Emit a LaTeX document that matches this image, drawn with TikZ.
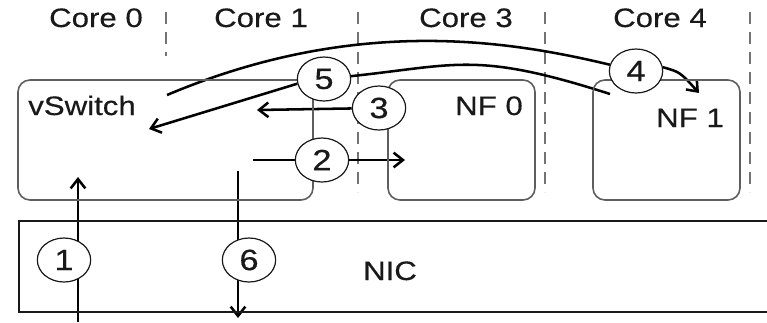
\documentclass[tikz,border=0pt]{standalone}
\usepackage{fontspec}
\setmainfont{Liberation Sans}[FakeStretch=1.17,FakeBold=0.4]
\usetikzlibrary{arrows.meta,shapes.geometric}
\pgfdeclarelayer{bg}
\pgfsetlayers{bg,main}
\definecolor{boxgray}{RGB}{95,95,95}
\definecolor{dashgray}{RGB}{115,115,115}
\definecolor{ink}{RGB}{25,25,25}
\begin{document}
\begin{tikzpicture}[x=0.75pt,y=-0.75pt,
  lbl/.style={font=\fontsize{20}{24}\selectfont, text=ink, inner sep=0pt},
  num/.style={ellipse, draw=ink, line width=0.9pt, fill=white, minimum width=40pt, minimum height=33pt, inner sep=0pt, font=\fontsize{22}{26}\selectfont, text=ink},
  corebox/.style={draw=boxgray, line width=1.2pt, rounded corners=9pt, minimum width=110.25pt, minimum height=90pt, inner sep=0pt},
  sep/.style={draw=dashgray, line width=1.6pt, dash pattern=on 9pt off 6pt},
  arr/.style={draw=black, line width=1.9pt, -{Straight Barb[length=7pt,width=11pt]}},
  flow/.style={draw=black, line width=1.9pt}]
\useasboundingbox (0,0) rectangle (767,322);
% boxes
\node[corebox, minimum width=221.25pt] (vs) at (165.5,140) {};
\node[corebox] (nf0) at (461.5,140) {};
\node[corebox] (nf1) at (666.5,140) {};
\node[draw=ink, line width=1.3pt, minimum width=570.75pt, minimum height=68.25pt, inner sep=0pt] (nic) at (399.5,266.5) {};
% labels
\node[lbl, anchor=base] (core0) at (96,27) {Core 0};
\node[lbl, anchor=base] (core1) at (261,27) {Core 1};
\node[lbl, anchor=base] (core3) at (466,27) {Core 3};
\node[lbl, anchor=base] (core4) at (660,27) {Core 4};
\node[lbl, anchor=base west] (vslbl) at (28,115) {vSwitch};
\node[lbl, anchor=base] (nf0lbl) at (489,115) {NF 0};
\node[lbl, anchor=base] (nf1lbl) at (690,127) {NF 1};
\node[lbl, anchor=base] (niclbl) at (390,280) {NIC};
% step circles
\node[num] (c1) at (64,260) {1};
\node[num] (c2) at (322,160) {2};
\node[num] (c3) at (379,108) {3};
\node[num] (c4) at (636,71) {4};
\node[num] (c5) at (324,79) {5};
\node[num] (c6) at (249,260) {6};
% free ends
\coordinate (s1t) at (166,12); \coordinate (s1b) at (166,56);
\coordinate (s2t) at (358,12); \coordinate (s2b) at (358,192);
\coordinate (s3t) at (545,12); \coordinate (s3b) at (545,192);
\coordinate (s4t) at (750,12); \coordinate (s4b) at (750,192);
\coordinate (a1s) at (78,322); \coordinate (a1e) at (78,177);
\coordinate (a6s) at (238,171); \coordinate (a6e) at (238,318);
\coordinate (a2s) at (253,160); \coordinate (a2e) at (405,160);
\coordinate (a3e) at (257,110);
\coordinate (a4s) at (167,95); \coordinate (a4e) at (699,93);
\coordinate (a5s) at (610,94); \coordinate (a5e) at (149,129);
\begin{pgfonlayer}{bg}
\draw[sep] (s1t) -- (s1b);
\draw[sep] (s2t) -- (s2b);
\draw[sep] (s3t) -- (s3b);
\draw[sep] (s4t) -- (s4b);
\draw[arr] (a1s) -- (a1e);
\draw[arr] (a6s) -- (a6e);
\draw[arr] (a2s) -- (a2e);
\draw[arr] (c3) -- (a3e);
\draw[flow] (a4s) .. controls (354,16) and (507,40) .. (c4);
\draw[arr] (c4.8) .. controls (680,72) .. (a4e);
\draw[flow] (a5s) .. controls (476,51) and (457,65) .. (c5);
\draw[arr] (c5.190) -- (a5e);
\end{pgfonlayer}
\end{tikzpicture}
\end{document}
